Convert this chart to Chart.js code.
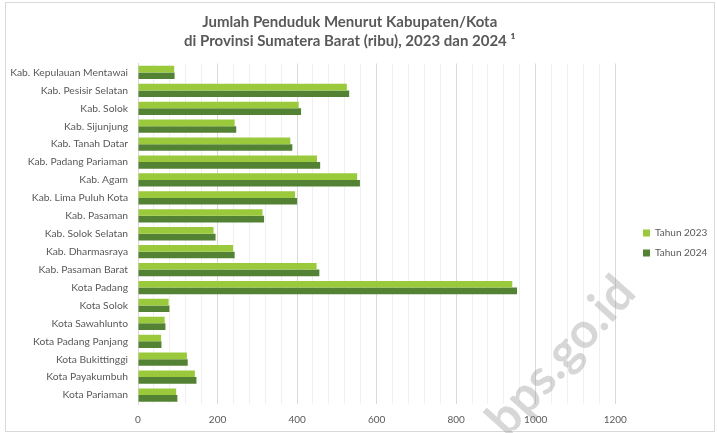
<!DOCTYPE html>
<html>
<head>
<meta charset="utf-8">
<script src="https://cdn.jsdelivr.net/npm/chart.js@4.4.1/dist/chart.umd.min.js"></script>
<style>
  html, body { margin: 0; padding: 0; background: #ffffff; }
  #wrap { width: 717px; height: 433px; }
</style>
</head>
<body>
<div id="wrap"><canvas id="c" width="717" height="433"></canvas></div>
<script>
const categories = [
  "Kab. Kepulauan Mentawai", "Kab. Pesisir Selatan", "Kab. Solok", "Kab. Sijunjung",
  "Kab. Tanah Datar", "Kab. Padang Pariaman", "Kab. Agam", "Kab. Lima Puluh Kota",
  "Kab. Pasaman", "Kab. Solok Selatan", "Kab. Dharmasraya", "Kab. Pasaman Barat",
  "Kota Padang", "Kota Solok", "Kota Sawahlunto", "Kota Padang Panjang",
  "Kota Bukittinggi", "Kota Payakumbuh", "Kota Pariaman"
];
const tahun2023 = [91, 525, 404, 243, 383, 450, 551, 395, 313, 190, 239, 449, 941, 77, 67, 58, 123, 143, 96];
const tahun2024 = [92, 531, 410, 247, 388, 458, 558, 400, 317, 195, 243, 456, 953, 79, 69, 59, 125, 147, 99];
const seriesNames = ["Tahun 2023", "Tahun 2024"];
const titleLines = ["Jumlah Penduduk Menurut Kabupaten/Kota", "di Provinsi Sumatera Barat (ribu), 2023 dan 2024 \u00B9"];
const xTicksMajor = [0, 200, 400, 600, 800, 1000, 1200];
const watermarkText = "bps.go.id";

const FONT = "Lato, 'Open Sans', 'DejaVu Sans', sans-serif";

const framePlugin = {
  id: 'frame',
  afterLayout(chart) {
    const lg = chart.legend;
    if (lg) {
      const dx = 643 - (lg.left + 10);
      const dy = 243 - (lg.top + lg.bottom) / 2;
      lg.left += dx; lg.right += dx;
      lg.top += dy; lg.bottom += dy;
    }
  },
  beforeDraw(chart) {
    const ctx = chart.ctx;
    ctx.save();
    ctx.fillStyle = '#ffffff';
    ctx.fillRect(0, 0, chart.width, chart.height);
    ctx.strokeStyle = '#d9d9d9';
    ctx.lineWidth = 1;
    ctx.strokeRect(5.5, 2.5, 709, 429);
    ctx.restore();
  },
  afterDraw(chart) {
    const ctx = chart.ctx;
    ctx.save();
    ctx.translate(561, 356);
    ctx.rotate(-48 * Math.PI / 180);
    ctx.font = "bold 49px " + FONT;
    ctx.fillStyle = 'rgba(150,150,150,0.38)';
    ctx.textAlign = 'center';
    ctx.textBaseline = 'middle';
    ctx.fillText(watermarkText, 0, 0);
    ctx.restore();
  }
};

new Chart(document.getElementById('c'), {
  type: 'bar',
  data: {
    labels: categories,
    datasets: [
      { label: seriesNames[0], data: tahun2023, backgroundColor: '#9aca3c', borderWidth: 0 },
      { label: seriesNames[1], data: tahun2024, backgroundColor: '#548235', borderWidth: 0 }
    ]
  },
  options: {
    indexAxis: 'y',
    responsive: false,
    animation: false,
    devicePixelRatio: 1,
    layout: { padding: { left: 0, right: 17.5, top: 0, bottom: 0 } },
    categoryPercentage: 0.74,
    barPercentage: 1.0,
    plugins: {
      title: {
        display: true,
        text: titleLines,
        color: '#595959',
        font: { family: FONT, size: 15, weight: 'bold', lineHeight: 1.25 },
        padding: { top: 13, bottom: 13 }
      },
      legend: {
        display: true,
        position: 'right',
        align: 'center',
        labels: {
          color: '#595959',
          font: { family: FONT, size: 10 },
          boxWidth: 7,
          boxHeight: 7,
          padding: 10
        }
      },
      tooltip: { enabled: false }
    },
    scales: {
      x: {
        min: 0,
        max: 1200,
        afterFit: (scale) => { scale.height = 29; },
        ticks: {
          stepSize: 40,
          autoSkip: false,
          maxRotation: 0,
          padding: 10,
          color: '#595959',
          font: { family: FONT, size: 10 },
          callback: (v) => xTicksMajor.includes(v) ? String(v) : ''
        },
        grid: {
          drawTicks: false,
          color: (ctx) => (ctx.tick && ctx.tick.value % 200 === 0) ? '#d9d9d9' : '#f0f0f0',
          lineWidth: 1
        },
        border: { display: false }
      },
      y: {
        afterFit: (scale) => { scale.width = 138; },
        ticks: {
          color: '#595959',
          font: { family: FONT, size: 10.3 },
          padding: 10
        },
        grid: { display: false, drawTicks: false },
        border: { display: true, color: '#d9d9d9' }
      }
    }
  },
  plugins: [framePlugin]
});
</script>
</body>
</html>
